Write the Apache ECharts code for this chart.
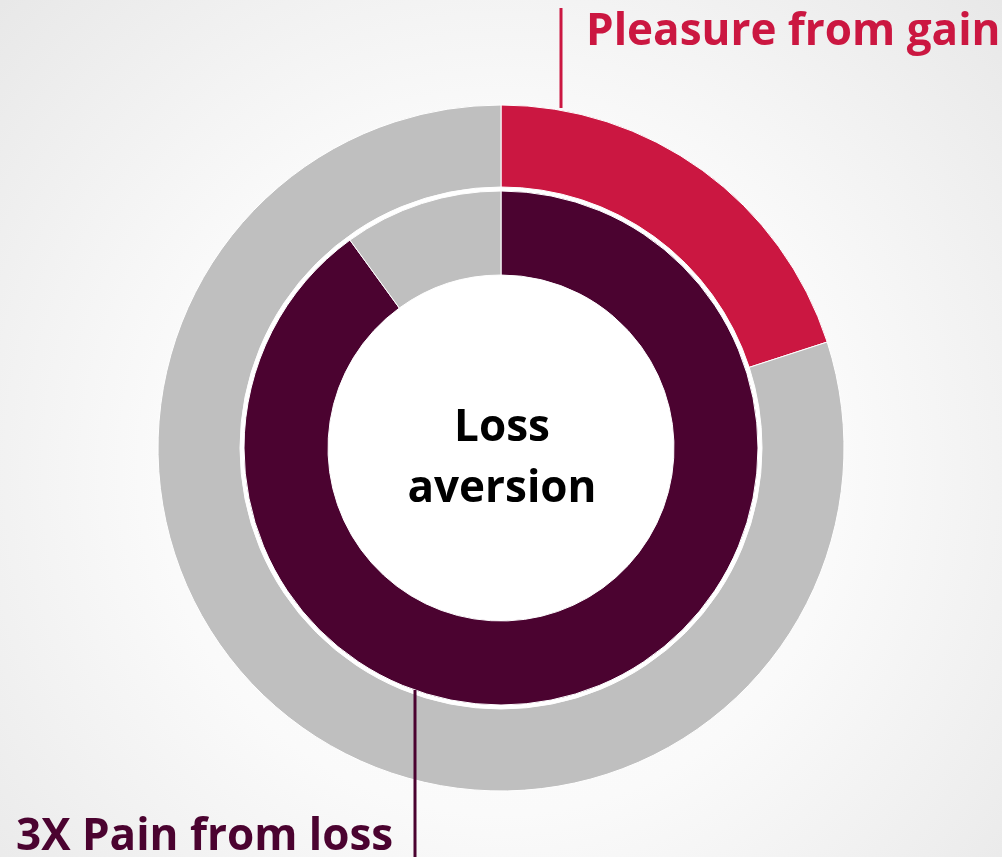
<!DOCTYPE html>
<html><head><meta charset="utf-8">
<script src="https://cdn.jsdelivr.net/npm/echarts@6/dist/echarts.min.js"></script>
<style>html,body{margin:0;padding:0;}#c{width:1002px;height:857px;}</style>
</head><body><div id="c"></div>
<script>
const outerNames = ['Pleasure from gain', 'Rest'];
const outerValues = [20, 80];
const innerNames = ['3X Pain from loss', 'Rest'];
const innerValues = [90, 10];
const centerLines = ['Loss', 'aversion'];
const gainLabel = 'Pleasure from gain';
const lossLabel = '3X Pain from loss';

const RED = '#CB1741', MAROON = '#4B0330', GRAY = '#BFBFBF';
const FONT = '"Open Sans"';
const chart = echarts.init(document.getElementById('c'), null, {renderer: 'canvas'});
chart.setOption({
  backgroundColor: {type: 'radial', x: 0.5, y: 0.55, r: 0.8,
    colorStops: [{offset: 0, color: '#ffffff'}, {offset: 0.5, color: '#fafafa'}, {offset: 1, color: '#e8e8e8'}]},
  animation: false,
  series: [
    {type: 'pie', silent: true, center: [501, 448], radius: [0, 262], z: 1,
     label: {show: false}, labelLine: {show: false},
     data: [{value: 1, itemStyle: {color: '#ffffff'}}]},
    {type: 'pie', silent: true, center: [501, 448], radius: [261, 343], startAngle: 90, clockwise: true, z: 2,
     label: {show: false}, labelLine: {show: false},
     itemStyle: {borderColor: '#ffffff', borderWidth: 1},
     data: outerValues.map((v, i) => ({name: outerNames[i], value: v, itemStyle: {color: i === 0 ? RED : GRAY}}))},
    {type: 'pie', silent: true, center: [501, 448], radius: [173, 257], startAngle: 90, clockwise: true, z: 2,
     label: {show: false}, labelLine: {show: false},
     itemStyle: {borderColor: '#ffffff', borderWidth: 1},
     data: innerValues.map((v, i) => ({name: innerNames[i], value: v, itemStyle: {color: i === 0 ? MAROON : GRAY}}))}
  ],
  graphic: [
    {type: 'line', shape: {x1: 561, y1: 8, x2: 561, y2: 108}, style: {stroke: RED, lineWidth: 3}, z: 10},
    {type: 'line', shape: {x1: 415, y1: 690, x2: 415, y2: 857}, style: {stroke: MAROON, lineWidth: 3}, z: 10},
    {type: 'text', x: 586, y: 10, z: 10,
     style: {text: gainLabel, fill: RED, font: 'bold 44px ' + FONT, verticalAlign: 'top'}},
    {type: 'text', x: 16, y: 815, z: 10,
     style: {text: lossLabel, fill: MAROON, font: 'bold 44px ' + FONT, verticalAlign: 'top'}},
    {type: 'text', z: 10, x: 502, y: 406,
     style: {text: centerLines[0], fill: '#000000', font: 'bold 44px ' + FONT, align: 'center', verticalAlign: 'top'}},
    {type: 'text', z: 10, x: 502, y: 467,
     style: {text: centerLines[1], fill: '#000000', font: 'bold 44px ' + FONT, align: 'center', verticalAlign: 'top'}}
  ]
});
</script></body></html>
